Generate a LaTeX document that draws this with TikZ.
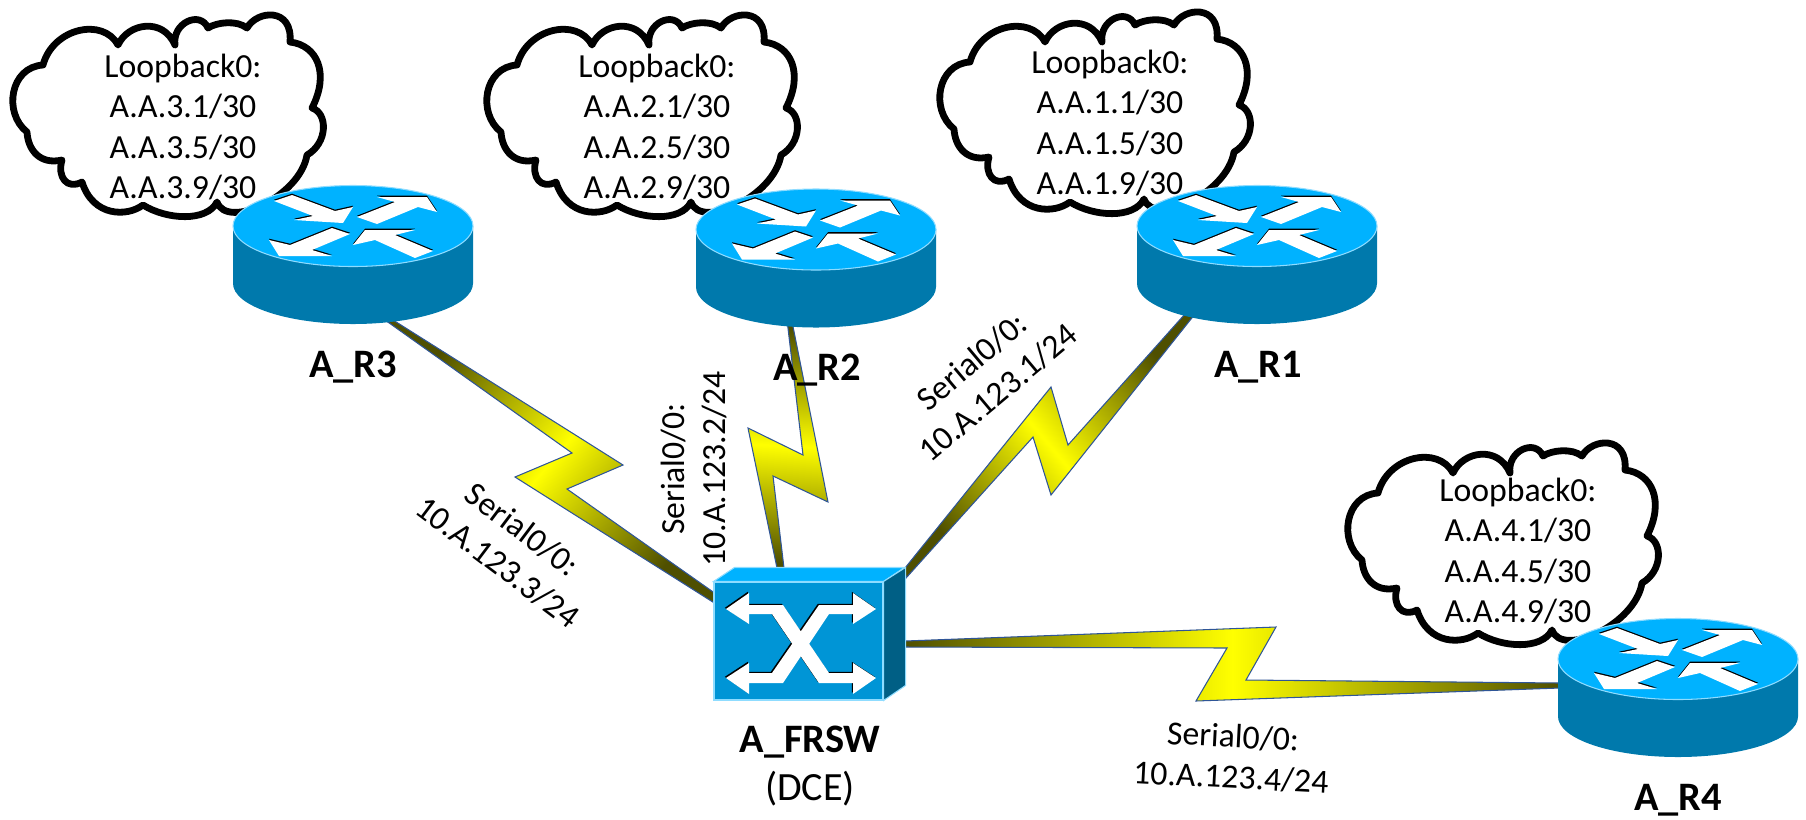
\documentclass[tikz,border=0pt]{standalone}
\usepackage{fontspec}
\setmainfont{Carlito}
\usetikzlibrary{calc, backgrounds}
\definecolor{devtop}{HTML}{00B2FF}
\definecolor{devside}{HTML}{0079AC}
\definecolor{devfront}{HTML}{0095D6}
\definecolor{devdark}{HTML}{005F85}
\definecolor{devedge}{HTML}{8FDCFF}
\definecolor{boltend}{HTML}{4F4F00}
\definecolor{boltmid}{HTML}{FFFF00}
\definecolor{boltedge}{HTML}{2F5597}

\begin{document}
\begin{tikzpicture}[
    looptext/.style={align=center, inner sep=0pt, font=\fontsize{9.6}{11.5}\selectfont},
    seriallabel/.style={align=center, inner sep=0pt, font=\fontsize{9.6}{11.6}\selectfont},
    devlabel/.style={anchor=base, inner sep=0pt, font=\fontsize{11.5}{13}\selectfont\bfseries},
    routerbox/.style={inner sep=0pt, minimum width=24mm, minimum height=13.9mm},
    switchbox/.style={inner sep=0pt, minimum width=16.9mm, minimum height=11.8mm, fill=devfront, draw=devedge, line width=0.3pt},
    seriallink/.style={draw=boltedge, line width=0.3pt, line join=miter, left color=boltend, right color=boltend, middle color=boltmid},
    router/.pic={
        \fill[devside] (-1.2,0.285) -- (-1.2,-0.29) arc[start angle=180, end angle=360, x radius=1.2, y radius=0.405] -- (1.2,0.285) -- cycle;
        \filldraw[fill=devtop, draw=devedge, line width=0.3pt] (0,0.285) ellipse[x radius=1.2, y radius=0.405];
        \foreach \arrowcol/\arrowup in {black/0.013, white/0} {
            \begin{scope}[shift={(0,0.285+\arrowup)}]
                \fill[\arrowcol] (-0.79,0.25) -- (-0.61,0.31) -- (-0.18,0.15) -- (0,0.19) -- (-0.10,0.03) -- (-0.59,0.06) -- (-0.40,0.10) -- cycle;
                \fill[\arrowcol] (0.24,0.29) -- (0.74,0.29) -- (0.84,0.14) -- (0.65,0.19) -- (0.24,0.02) -- (0.04,0.09) -- (0.42,0.24) -- cycle;
                \fill[\arrowcol] (-0.84,-0.14) -- (-0.63,-0.19) -- (-0.21,-0.02) -- (-0.03,-0.08) -- (-0.41,-0.24) -- (-0.21,-0.30) -- (-0.74,-0.30) -- cycle;
                \fill[\arrowcol] (0,-0.19) -- (0.12,-0.04) -- (0.62,-0.04) -- (0.42,-0.09) -- (0.80,-0.25) -- (0.62,-0.32) -- (0.22,-0.14) -- cycle;
            \end{scope}
        }
    },
    cloudshape/.pic={
        \filldraw[fill=white, draw=black, line width=0.68mm, line join=round]
            (0.43,-0.65)
            .. controls (0.53,-0.28) and (1.03,-0.17) .. (1.18,-0.45)
            .. controls (1.28,-0.23) and (1.63,-0.17) .. (1.75,-0.45)
            .. controls (1.72,-0.23) and (2.00,-0.10) .. (2.08,-0.28)
            .. controls (2.17,-0.22) and (2.37,-0.20) .. (2.47,-0.28)
            .. controls (2.57,-0.10) and (2.93,-0.07) .. (2.90,-0.42)
            .. controls (3.17,-0.45) and (3.30,-0.73) .. (3.12,-1.08)
            .. controls (3.28,-1.13) and (3.28,-1.43) .. (3.07,-1.55)
            .. controls (3.00,-1.97) and (2.27,-2.30) .. (2.17,-2.02)
            .. controls (2.07,-2.22) and (1.67,-2.20) .. (1.43,-2.05)
            .. controls (1.27,-2.17) and (0.93,-2.17) .. (0.82,-1.82)
            .. controls (0.67,-1.90) and (0.57,-1.77) .. (0.62,-1.60)
            .. controls (0.40,-1.65) and (0.28,-1.50) .. (0.27,-1.32)
            .. controls (0.03,-1.13) and (0.10,-0.67) .. cycle;
    }
]
\useasboundingbox (0,0) rectangle (18.06,-8.19);

% Clouds
\pic at (0,0) {cloudshape};
\pic at (4.74,0) {cloudshape};
\pic at (9.27,0.03) {cloudshape};
\pic at (13.35,-4.28) {cloudshape};

\node[looptext] (lo3) at (1.83,-1.27) {Loopback0:\\A.A.3.1/30\\A.A.3.5/30\\A.A.3.9/30};
\node[looptext] (lo2) at (6.57,-1.27) {Loopback0:\\A.A.2.1/30\\A.A.2.5/30\\A.A.2.9/30};
\node[looptext] (lo1) at (11.10,-1.23) {Loopback0:\\A.A.1.1/30\\A.A.1.5/30\\A.A.1.9/30};
\node[looptext] (lo4) at (15.18,-5.51) {Loopback0:\\A.A.4.1/30\\A.A.4.5/30\\A.A.4.9/30};

% Routers
\node[routerbox] (r3) at (3.53,-2.545) {};
\node[routerbox] (r2) at (8.16,-2.58) {};
\node[routerbox] (r1) at (12.57,-2.545) {};
\node[routerbox] (r4) at (16.78,-6.875) {};
\pic at (r3) {router};
\pic at (r2) {router};
\pic at (r1) {router};
\pic at (r4) {router};

% Switch
\node[switchbox] (frsw) at (7.985,-6.41) {};
\filldraw[fill=devtop, draw=devedge, line width=0.3pt] (frsw.north west) -- ++(0.21,0.14) -- ++(1.70,0) -- (frsw.north east) -- cycle;
\filldraw[fill=devdark, draw=devedge, line width=0.3pt] (frsw.north east) -- ++(0.22,0.14) -- ++(0,-1.18) -- (frsw.south east) -- cycle;
\foreach \arrowcol/\arrowup in {black/0.012, white/0} {
    \begin{scope}[shift={(6.40-\arrowup,-5.40+\arrowup)}]
        \fill[\arrowcol] (0.86,-0.69) -- (1.09,-0.53) -- (1.09,-0.65) -- (1.43,-0.65) -- (1.89,-1.33) -- (2.13,-1.33) -- (2.13,-1.23) -- (2.36,-1.38) -- (2.13,-1.54) -- (2.13,-1.43) -- (1.79,-1.43) -- (1.32,-0.74) -- (1.09,-0.74) -- (1.09,-0.84) -- cycle;
        \fill[\arrowcol] (0.86,-1.38) -- (1.09,-1.23) -- (1.09,-1.33) -- (1.32,-1.33) -- (1.79,-0.65) -- (2.13,-0.65) -- (2.13,-0.53) -- (2.36,-0.69) -- (2.13,-0.84) -- (2.13,-0.74) -- (1.89,-0.74) -- (1.43,-1.43) -- (1.09,-1.43) -- (1.09,-1.54) -- cycle;
    \end{scope}
}

% Serial links
\begin{scope}[on background layer]
    \shadedraw[seriallink, shading angle=50] ($(r3)+(0.40,-0.655)$) -- (6.23,-4.65) -- (5.67,-4.89) -- ($(frsw)+(-0.825,0.47)$) -- ($(frsw)+(-0.825,0.37)$) -- (5.15,-4.77) -- (5.72,-4.53) -- ($(r3)+(0.32,-0.655)$) -- cycle;
    \shadedraw[seriallink, shading angle=177] ($(r2)+(-0.285,-0.66)$) -- ($(r2)+(-0.235,-0.66)$) -- (8.28,-5.02) -- (7.73,-4.76) -- ($(frsw)+(-0.145,0.73)$) -- ($(frsw)+(-0.215,0.73)$) -- (7.48,-4.28) -- (8.03,-4.55) -- cycle;
    \shadedraw[seriallink, shading angle=130] ($(r1)+(-0.72,-0.595)$) -- (10.68,-4.45) -- (10.51,-3.87) -- ($(frsw)+(1.065,0.73)$) -- ($(frsw)+(1.075,0.63)$) -- (10.33,-4.37) -- (10.51,-4.95) -- ($(r1)+(-0.62,-0.595)$) -- cycle;
    \shadedraw[seriallink, shading angle=90] ($(frsw)+(1.065,0)$) -- (12.76,-6.27) -- (12.46,-6.80) -- ($(r4)+(-1.18,0.045)$) -- ($(r4)+(-1.18,-0.005)$) -- (11.96,-7.01) -- (12.27,-6.48) -- ($(frsw)+(1.065,-0.06)$) -- cycle;
\end{scope}

% Labels
\node[devlabel] (namer3) at (3.53,-3.77) {A\_R3};
\node[devlabel] (namer2) at (8.17,-3.80) {A\_R2};
\node[devlabel] (namer1) at (12.58,-3.77) {A\_R1};
\node[devlabel] (namer4) at (16.78,-8.10) {A\_R4};
\node[devlabel] (namesw) at (8.10,-7.52) {A\_FRSW};
\node[anchor=base, inner sep=0pt, font=\fontsize{11.4}{13}\selectfont] (dce) at (8.10,-8.00) {(DCE)};

\node[seriallabel, rotate=-37] (s3) at (5.10,-5.46) {Serial0/0:\\10.A.123.3/24};
\node[seriallabel, rotate=90] (s2) at (6.94,-4.69) {Serial0/0:\\10.A.123.2/24};
\node[seriallabel, rotate=40] (s1) at (9.85,-3.77) {Serial0/0:\\10.A.123.1/24};
\node[seriallabel, rotate=-3] (s4) at (12.32,-7.57) {Serial0/0:\\10.A.123.4/24};

\end{tikzpicture}
\end{document}
